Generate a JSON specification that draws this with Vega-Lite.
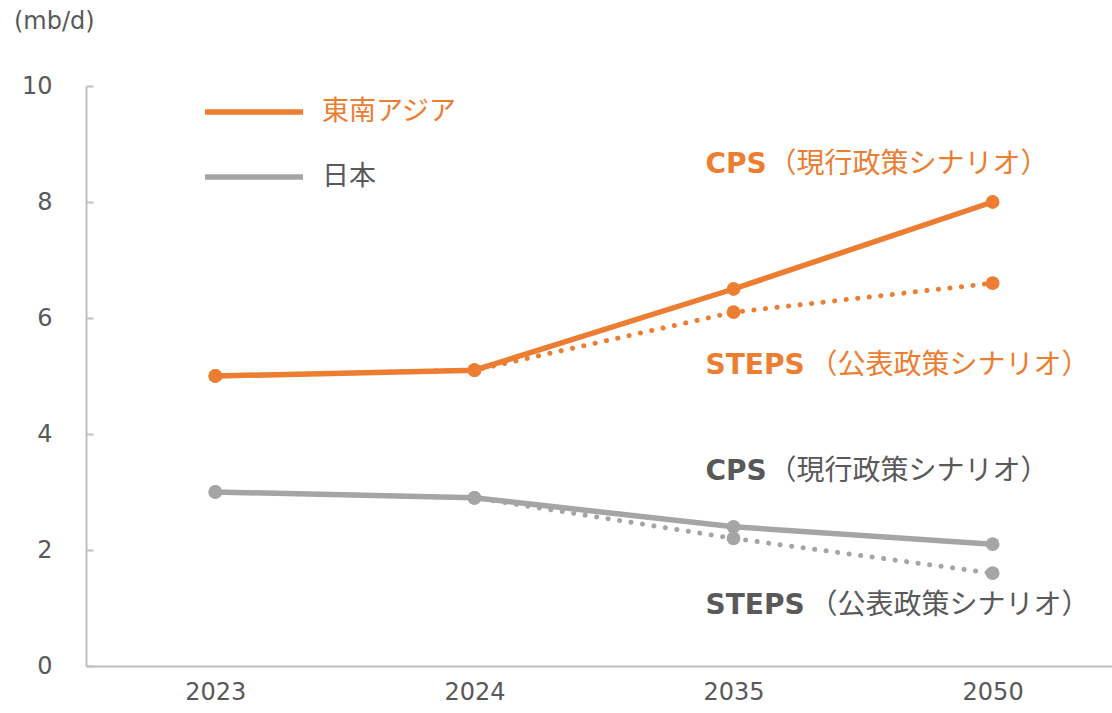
{
  "$schema": "https://vega.github.io/schema/vega-lite/v6.json",
  "autosize": "none",
  "width": 1026,
  "height": 580,
  "padding": {"left": 86, "top": 86, "right": 0, "bottom": 47},
  "background": "white",
  "config": {
    "view": {"stroke": null},
    "font": "DejaVu Sans, Noto Sans CJK JP",
    "axis": {"grid": false, "labelFont": "DejaVu Sans", "labelFontSize": 24, "labelColor": "#595959", "domainColor": "#BFBFBF", "domainWidth": 2, "tickColor": "#BFBFBF", "tickWidth": 2, "title": null}
  },
  "title": {
    "text": "(mb/d)",
    "anchor": "start",
    "frame": "group",
    "offset": 40,
    "dx": -72,
    "fontSize": 24,
    "fontWeight": "normal",
    "color": "#595959",
    "font": "DejaVu Sans"
  },
  "datasets": {
    "series": [
      {"region": "東南アジア", "scenario": "CPS", "year": "2023", "value": 5.0},
      {"region": "東南アジア", "scenario": "CPS", "year": "2024", "value": 5.1},
      {"region": "東南アジア", "scenario": "CPS", "year": "2035", "value": 6.5},
      {"region": "東南アジア", "scenario": "CPS", "year": "2050", "value": 8.0},
      {"region": "東南アジア", "scenario": "STEPS", "year": "2023", "value": 5.0},
      {"region": "東南アジア", "scenario": "STEPS", "year": "2024", "value": 5.1},
      {"region": "東南アジア", "scenario": "STEPS", "year": "2035", "value": 6.1},
      {"region": "東南アジア", "scenario": "STEPS", "year": "2050", "value": 6.6},
      {"region": "日本", "scenario": "CPS", "year": "2023", "value": 3.0},
      {"region": "日本", "scenario": "CPS", "year": "2024", "value": 2.9},
      {"region": "日本", "scenario": "CPS", "year": "2035", "value": 2.4},
      {"region": "日本", "scenario": "CPS", "year": "2050", "value": 2.1},
      {"region": "日本", "scenario": "STEPS", "year": "2023", "value": 3.0},
      {"region": "日本", "scenario": "STEPS", "year": "2024", "value": 2.9},
      {"region": "日本", "scenario": "STEPS", "year": "2035", "value": 2.2},
      {"region": "日本", "scenario": "STEPS", "year": "2050", "value": 1.6}
    ],
    "notes": [
      {"region": "東南アジア", "scenario": "CPS", "year": "2035", "value": 8.64, "bold": "CPS", "rest": "（現行政策シナリオ）"},
      {"region": "東南アジア", "scenario": "STEPS", "year": "2035", "value": 5.17, "bold": "STEPS", "rest": "（公表政策シナリオ）"},
      {"region": "日本", "scenario": "CPS", "year": "2035", "value": 3.34, "bold": "CPS", "rest": "（現行政策シナリオ）"},
      {"region": "日本", "scenario": "STEPS", "year": "2035", "value": 1.03, "bold": "STEPS", "rest": "（公表政策シナリオ）"}
    ]
  },
  "encoding": {
    "x": {
      "field": "year", "type": "ordinal",
      "sort": ["2023", "2024", "2035", "2050"],
      "scale": {"type": "point", "padding": 0.48, "align": 0.52},
      "axis": {"labelAngle": 0, "ticks": false, "labelPadding": 14}
    },
    "y": {
      "field": "value", "type": "quantitative",
      "scale": {"domain": [0, 10], "nice": false, "zero": true},
      "axis": {"values": [0, 2, 4, 6, 8, 10], "tickSize": -7, "labelPadding": 41}
    }
  },
  "layer": [
    {
      "data": {"name": "series"},
      "transform": [{"filter": "datum.scenario === 'CPS'"}],
      "mark": {"type": "line", "strokeWidth": 5.5},
      "encoding": {
        "color": {
          "field": "region", "type": "nominal",
          "scale": {"domain": ["東南アジア", "日本"], "range": ["#ED7D31", "#A5A5A5"]},
          "legend": {
            "title": null,
            "orient": "none",
            "legendX": 116,
            "legendY": 12,
            "direction": "vertical",
            "symbolType": "stroke",
            "symbolSize": 9604,
            "symbolStrokeWidth": 5.5,
            "clipHeight": 28,
            "rowPadding": 37,
            "labelOffset": 16,
            "labelFont": "Noto Sans CJK JP",
            "labelFontSize": 27,
            "labelColor": {"expr": "datum.label === '東南アジア' ? '#ED7D31' : '#595959'"}
          }
        }
      }
    },
    {
      "data": {"name": "series"},
      "transform": [{"filter": "datum.scenario === 'STEPS'"}],
      "mark": {"type": "line", "strokeWidth": 5, "strokeDash": [0.1, 11.5], "strokeCap": "round"},
      "encoding": {
        "color": {"field": "region", "type": "nominal", "legend": null}
      }
    },
    {
      "data": {"name": "series"},
      "mark": {"type": "point", "filled": true, "opacity": 1, "size": 190},
      "encoding": {
        "color": {"field": "region", "type": "nominal", "legend": null}
      }
    },
    {
      "data": {"name": "notes"},
      "mark": {"type": "text", "align": "left", "baseline": "middle", "dx": -28, "fontSize": 28, "fontWeight": "bold", "font": "DejaVu Sans"},
      "encoding": {
        "text": {"field": "bold"},
        "fill": {"field": "region", "type": "nominal", "scale": {"domain": ["東南アジア", "日本"], "range": ["#ED7D31", "#595959"]}, "legend": null}
      }
    },
    {
      "data": {"name": "notes"},
      "transform": [{"filter": "datum.scenario === 'CPS'"}],
      "mark": {"type": "text", "align": "left", "baseline": "middle", "dx": 35, "fontSize": 28, "font": "Noto Sans CJK JP"},
      "encoding": {
        "text": {"field": "rest"},
        "fill": {"field": "region", "type": "nominal", "legend": null}
      }
    },
    {
      "data": {"name": "notes"},
      "transform": [{"filter": "datum.scenario === 'STEPS'"}],
      "mark": {"type": "text", "align": "left", "baseline": "middle", "dx": 76, "fontSize": 28, "font": "Noto Sans CJK JP"},
      "encoding": {
        "text": {"field": "rest"},
        "fill": {"field": "region", "type": "nominal", "legend": null}
      }
    }
  ]
}
